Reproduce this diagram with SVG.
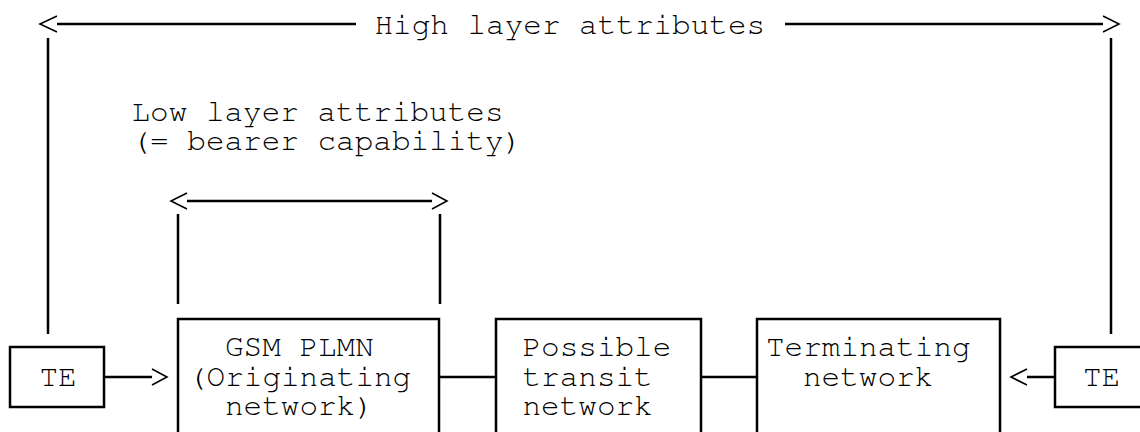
<svg xmlns="http://www.w3.org/2000/svg" width="1140" height="432" viewBox="0 0 1140 432">
<style>
  text { font-family: "Nimbus Mono PS", "FreeMono", "Courier New", "Liberation Mono", monospace; font-size: 31px; fill: #000; }
  .box { fill: none; stroke: #000; stroke-width: 2.5; }
  .ln { fill: none; stroke: #000; stroke-width: 2.5; }
  .chev { fill: none; stroke: #000; stroke-width: 1.6; }
</style>
<rect width="1140" height="432" fill="#fff"/>
<g id="connectors">
  <!-- High layer attributes span -->
  <path class="ln" d="M57 24H356M785 24H1103"/>
  <path class="chev" d="M57 16L40 24L57 32M1103 16L1119 24L1103 32"/>
  <path class="ln" d="M48 38V334M1111 38V334"/>
  <!-- Low layer attributes span -->
  <path class="ln" d="M187 201H432"/>
  <path class="chev" d="M187 193L171 201L187 209M432 193L447 201L432 209"/>
  <path class="ln" d="M178 214V304M440 214V304"/>
  <!-- chain -->
  <path class="ln" d="M104 377H152"/>
  <path class="chev" d="M152 369L167 377L152 385"/>
  <path class="ln" d="M439 377H496M701 377H757M1027 377H1055"/>
  <path class="chev" d="M1027 369L1011 377L1027 385"/>
  <text x="374.5" y="34">High layer attributes</text>
  <text x="131.5" y="121">Low layer attributes</text>
  <text x="131.5" y="150">(= bearer capability)</text>
</g>
<g id="te-left">
  <rect class="box" x="10" y="347" width="94" height="60"/>
  <text x="39.5" y="386">TE</text>
</g>
<g id="gsm-plmn">
  <rect class="box" x="178" y="319" width="261" height="140"/>
  <text x="225" y="356">GSM PLMN</text>
  <text x="188" y="386">(Originating</text>
  <text x="225" y="415">network)</text>
</g>
<g id="transit">
  <rect class="box" x="496" y="319" width="205" height="140"/>
  <text x="522.5" y="356">Possible</text>
  <text x="522.5" y="386">transit</text>
  <text x="522.5" y="415">network</text>
</g>
<g id="terminating">
  <rect class="box" x="757" y="319" width="243" height="140"/>
  <text x="766" y="356">Terminating</text>
  <text x="803" y="386">network</text>
</g>
<g id="te-right">
  <rect class="box" x="1055" y="347" width="100" height="60"/>
  <text x="1083" y="386">TE</text>
</g>
</svg>
